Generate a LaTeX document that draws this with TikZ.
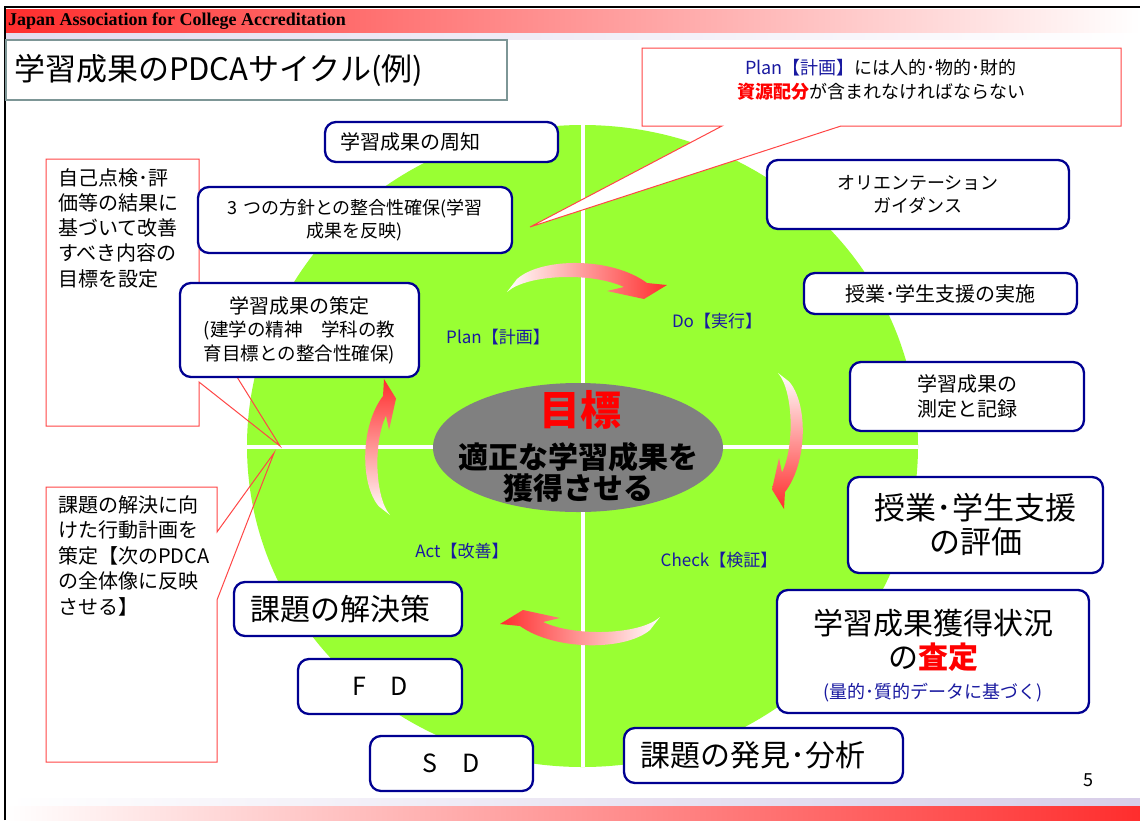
\documentclass[tikz,border=0pt]{standalone}
\usepackage{fontspec}
\setmainfont{Noto Sans CJK JP}
\newfontfamily\headfont{Liberation Serif}
\usetikzlibrary{shapes.geometric}

\definecolor{cyclegreen}{RGB}{153,255,51}
\definecolor{boxblue}{RGB}{0,0,145}
\definecolor{labelblue}{RGB}{25,25,160}
\definecolor{calloutred}{RGB}{255,70,70}
\definecolor{arrowred}{RGB}{255,45,45}
\definecolor{titleframe}{RGB}{125,150,150}
\definecolor{goalgray}{RGB}{128,128,128}
\definecolor{bandred}{RGB}{255,45,45}
\definecolor{bandlilac}{RGB}{215,205,232}

\tikzset{
  stagebox/.style={draw=boxblue, line width=2.3pt, rounded corners=11pt, fill=white, inner xsep=8pt, inner ysep=0pt, align=center},
  phaselabel/.style={text=labelblue, inner sep=0pt, font=\fontsize{17}{20}\selectfont},
  callout/.style={draw=calloutred, line width=1pt},
  notetext/.style={anchor=north west, inner sep=0pt, text width=170, align=left, font=\fontsize{20}{25.3}\selectfont}
}

\begin{document}
\begin{tikzpicture}[x=1pt,y=-1pt]
  \useasboundingbox (0,0) rectangle (1140,820);
  \fill[white] (0,0) rectangle (1140,820);
  \shade[left color=bandred, right color=white] (6,9) rectangle (1140,33);
  \shade[left color=bandlilac!70, right color=white] (6,33) rectangle (1140,39);
  \shade[left color=white, right color=bandlilac] (6,798) rectangle (1140,806);
  \shade[left color=white, right color=bandred] (6,806) rectangle (1140,820);
  \draw[line width=2.5pt] (5,820) -- (5,7) -- (1140,7);
  \node[anchor=base west, inner sep=0pt, font=\headfont\bfseries\fontsize{18}{20}\selectfont] (assoc) at (8,25) {Japan Association for College Accreditation};
  \node[draw=titleframe, line width=2.5pt, fill=white, minimum height=60, text width=485, inner xsep=8, align=left, font=\fontsize{31}{36}\selectfont] (title) at (256.5,70) {学習成果のPDCAサイクル(例)};

  \fill[cyclegreen] (582.5,446) ellipse [x radius=335.5, y radius=321];
  \begin{scope}
    \clip (582.5,446) ellipse [x radius=335.5, y radius=321];
    \draw[white, line width=4pt] (583,120) -- (583,770);
    \draw[white, line width=4pt] (240,447) -- (925,447);
  \end{scope}
  \node[ellipse, fill=goalgray, minimum width=290, minimum height=129, inner sep=0pt] (goal) at (578,447.5) {};
  \node[text=red, inner sep=0pt, font=\bfseries\fontsize{41}{44}\selectfont] (goaltitle) at (580,410) {目標};
  \node[text width=260, align=center, inner sep=0pt, font=\bfseries\fontsize{30}{31}\selectfont] (goaltext) at (578,472.5) {適正な学習成果を\\獲得させる};

  \shade[left color=white, right color=arrowred] (667,285) -- (644,299) -- (607,291) -- (624,287) .. controls (592,272) and (527,274) .. (507,292) -- (517,279) .. controls (542,257) and (612,257) .. (647,283) -- cycle;
  \shade[top color=white, bottom color=arrowred] (784,509) -- (772,489.5) -- (779,458) -- (782,472.5) .. controls (795,445) and (793,390) .. (778,373) -- (789,381.5) .. controls (808,403) and (808,462) .. (785,492) -- cycle;
  \shade[left color=arrowred, right color=white] (500,624) -- (523,610) -- (560,618) -- (543,622) .. controls (575,637) and (640,635) .. (660,617) -- (650,630) .. controls (625,651) and (555,651) .. (520,626) -- cycle;
  \shade[top color=arrowred, bottom color=white] (384,379) -- (396,398.5) -- (389,430) -- (386,415.5) .. controls (373,443) and (375,498) .. (390,515) -- (379,506.5) .. controls (360,485) and (360,426) .. (383,396) -- cycle;

  \node[phaselabel] (plan) at (498,337) {Plan【計画】};
  \node[phaselabel] (do) at (717,321) {Do【実行】};
  \node[phaselabel] (act) at (462,551) {Act【改善】};
  \node[phaselabel] (check) at (719,560) {Check【検証】};

  \draw[callout] (46,159) -- (199,159) -- (199,316) -- (280,446) -- (199,382) -- (199,426) -- (46,426) -- cycle;
  \node[notetext] (jikonote) at (58,168) {自己点検･評\\価等の結果に\\基づいて改善\\すべき内容の\\目標を設定};
  \draw[callout] (46,487) -- (217,487) -- (217,532) -- (274,453) -- (217,600) -- (217,762) -- (46,762) -- cycle;
  \node[notetext, font=\fontsize{20}{25.5}\selectfont] (kadainote) at (58,495) {課題の解決に向\\けた行動計画を\\策定【次のPDCA\\の全体像に反映\\させる】};
  \draw[callout, fill=white] (642,48) -- (1121,48) -- (1121,126) -- (841,126) -- (530,227) -- (722,126) -- (642,126) -- cycle;
  \node[text width=470, align=center, inner sep=0pt, font=\fontsize{18}{24}\selectfont] (plannote) at (881,80) {\textcolor{labelblue}{Plan【計画】}には人的･物的･財的\\\textcolor{red}{\bfseries 資源配分}が含まれなければならない};

  \node[stagebox, text width=203, align=left, inner xsep=15, minimum height=40, font=\fontsize{20}{24}\selectfont] (shuchi) at (441.5,142) {学習成果の周知};
  \node[stagebox, text width=298, minimum height=66, font=\fontsize{18}{23}\selectfont] (hoshin) at (355,220) {3 つの方針との整合性確保(学習\\成果を反映)};
  \node[stagebox, text width=223, minimum height=94, font=\fontsize{18.5}{23.5}\selectfont] (sakutei) at (299.5,330) {{\fontsize{20}{23.5}\selectfont 学習成果の策定}\\(建学の精神　学科の教\\育目標との整合性確保)};
  \node[stagebox, text width=286, minimum height=69, font=\fontsize{18}{23}\selectfont] (orient) at (918,194.5) {オリエンテーション\\ガイダンス};
  \node[stagebox, text width=257, minimum height=41, font=\fontsize{20}{24}\selectfont] (jisshi) at (940.5,293.5) {授業･学生支援の実施};
  \node[stagebox, text width=218, minimum height=69, font=\fontsize{20}{25}\selectfont] (sokutei) at (967,396.5) {学習成果の\\測定と記録};
  \node[stagebox, text width=239, minimum height=96, font=\fontsize{31}{34}\selectfont] (hyoka) at (975.5,525) {授業･学生支援\\の評価};
  \node[stagebox, text width=296, minimum height=123, font=\fontsize{30}{34}\selectfont] (satei) at (933,651.5) {\rule{0pt}{34pt}学習成果獲得状況\\の\textcolor{red}{\bfseries 査定}\\[-4pt]{\color{labelblue}\fontsize{18}{34}\selectfont(量的･質的データに基づく)}};
  \node[stagebox, text width=196, align=left, inner xsep=16, minimum height=54, font=\fontsize{30}{34}\selectfont] (kaiketsu) at (348,609) {課題の解決策};
  \node[stagebox, text width=148, minimum height=55, font=\fontsize{25}{30}\selectfont] (fd) at (380,686.5) {F　D};
  \node[stagebox, text width=147, minimum height=55, font=\fontsize{25}{30}\selectfont] (sd) at (451.5,763.5) {S　D};
  \node[stagebox, text width=247, align=left, inner xsep=16, minimum height=55, font=\fontsize{30}{34}\selectfont] (hakken) at (763.5,755.5) {課題の発見･分析};
  \node[inner sep=0pt, font=\fontsize{18}{20}\selectfont] (pageno) at (1088,780) {5};
\end{tikzpicture}
\end{document}
